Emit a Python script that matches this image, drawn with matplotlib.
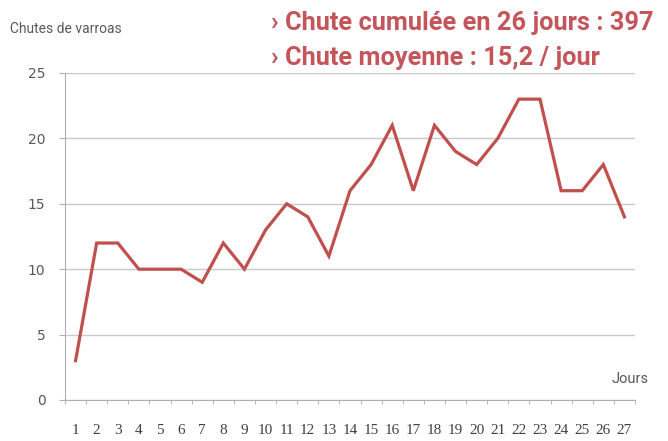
import matplotlib.pyplot as plt
from matplotlib.ticker import FixedLocator

# Données
jours = list(range(1, 28))
chutes = [3, 12, 12, 10, 10, 10, 9, 12, 10, 13, 15, 14, 11, 16, 18,
          21, 16, 21, 19, 18, 20, 23, 23, 16, 16, 18, 14]
graduations_y = [0, 5, 10, 15, 20, 25]

rouge = '#c0504d'
rouge_texte = '#c4555a'
gris = '#595959'

fig = plt.figure(figsize=(6.68, 4.41), dpi=100)
ax = fig.add_axes([0.0973, 0.093, 0.8533, 0.7415])

ax.plot(jours, chutes, color=rouge, linewidth=2.3, solid_joinstyle='miter')

ax.set_xlim(0.5, 27.5)
ax.set_ylim(0, 25)
ax.set_yticks(graduations_y)
ax.yaxis.grid(True, color='#c8c8c8', linewidth=1)
ax.set_axisbelow(True)

# graduations entre les catégories, libellés centrés
ax.set_xticks(jours)
ax.set_xticklabels([str(j) for j in jours], family='Liberation Serif',
                   fontsize=11, color='#404040')
ax.xaxis.set_minor_locator(FixedLocator([j + 0.5 for j in range(0, 28)]))
ax.tick_params(axis='x', which='major', length=0, pad=17)
ax.tick_params(axis='x', which='minor', length=3, color='#b0b0b0')
ax.tick_params(axis='y', length=4, color='#b0b0b0', labelsize=10,
               labelcolor=gris, pad=10)

for s in ['top', 'right']:
    ax.spines[s].set_visible(False)
for s in ['left', 'bottom']:
    ax.spines[s].set_color('#b0b0b0')

fig.text(0.015, 0.925, 'Chutes de varroas', fontsize=10, color=gris,
         family='Roboto')
fig.text(0.915, 0.132, 'Jours', fontsize=10.5, color=gris,
         family='Roboto')

# encadré blanc derrière les résultats
fig.patches.append(plt.Rectangle((0.375, 0.835), 0.625, 0.165, transform=fig.transFigure,
                                 facecolor='white', edgecolor='none', zorder=5))
fig.text(0.405, 0.947, '› Chute cumulée en 26 jours : 397', fontsize=18.3,
         fontweight='bold', color=rouge_texte, zorder=6, family='Roboto',
         va='center')
fig.text(0.405, 0.868, '› Chute moyenne : 15,2 / jour', fontsize=18.3,
         fontweight='bold', color=rouge_texte, zorder=6, family='Roboto',
         va='center')

fig.savefig('out.png', dpi=100)
